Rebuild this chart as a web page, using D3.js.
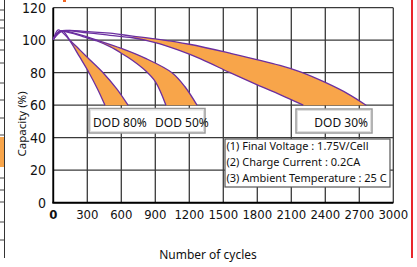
<!DOCTYPE html>
<html>
<head>
<meta charset="utf-8">
<script src="https://cdn.jsdelivr.net/npm/d3@7"></script>
<style>
  html, body { margin: 0; padding: 0; background: #fff; }
  svg { display: block; }
  .tick-y, .tick-x { font-family: "Liberation Sans Narrow", "DejaVu Sans Condensed", sans-serif; fill: #111; }
  .lbl { font-family: "Noto Sans", "Open Sans", sans-serif; fill: #111; }
</style>
</head>
<body>
<div id="chart"></div>
<script>
// cycle-life data: [cycles, capacity %]
var xTicks = [0, 300, 600, 900, 1200, 1500, 1800, 2100, 2400, 2700, 3000];
var yTicks = [0, 20, 40, 60, 80, 100, 120];

var dod80Upper = [[0,100.5],[80,105.8],[147,100],[220,95],[300,89.5],[439,80],[560,70],[659,60]];
var dod80Lower = [[0,100.5],[44,106.3],[100,103.5],[147,99.6],[230,90],[315,80],[390,70],[456,60]];

var dod50Upper = [[0,100.5],[60,105.6],[200,104],[386,100],[600,95],[809,89],[1047,80],[1160,71.5],[1268,60]];
var dod50Lower = [[0,100.5],[50,105.3],[150,104.5],[250,102.5],[386,99.5],[500,96],[600,92],[700,87.5],[809,81.5],[900,74.5],[994,60]];

var dod30Upper = [[0,100.5],[80,105.5],[300,105.3],[500,104.3],[700,102.5],[900,100.8],[1200,97.5],[1560,92],[2000,84.5],[2180,80.5],[2400,74],[2600,67],[2760,60]];
var dod30Lower = [[0,100.5],[60,105.5],[300,104.5],[500,103],[700,101.5],[900,98.5],[1100,94],[1300,88.5],[1560,80],[1800,72.5],[2000,66.5],[2206,60]];

// where each band starts (cycles)
var bands = [
  {upper: dod80Upper, lower: dod80Lower, from: 147},
  {upper: dod50Upper, lower: dod50Lower, from: 386},
  {upper: dod30Upper, lower: dod30Lower, from: 700}
];

var notes = ["(1) Final Voltage : 1.75V/Cell", "(2) Charge Current : 0.2CA", "(3) Ambient Temperature : 25 C"];

var W = 417, H = 267;
var svg = d3.select("#chart").append("svg").attr("width", W).attr("height", H);

var x = d3.scaleLinear().domain([0, 3000]).range([53.3, 393.3]);
var y = d3.scaleLinear().domain([0, 120]).range([202.7, 7.7]);

// bits of the neighbouring figures that got cropped in
svg.append("line").attr("x1", 4.5).attr("x2", 4.5).attr("y1", 0).attr("y2", 258)
   .attr("stroke", "#333").attr("stroke-width", 1);
[10, 20, 28, 40, 50, 63, 83, 100, 118, 135, 178, 190, 202, 222, 240].forEach(function (v) {
  svg.append("line").attr("x1", 0).attr("x2", 4.5).attr("y1", v).attr("y2", v)
     .attr("stroke", "#444").attr("stroke-width", 1);
});
svg.append("rect").attr("x", 0).attr("y", 137).attr("width", 4).attr("height", 30).attr("fill", "#f8a54a");
svg.append("line").attr("x1", 412).attr("x2", 412).attr("y1", 0).attr("y2", 258)
   .attr("stroke", "#e8262c").attr("stroke-width", 2);
svg.append("rect").attr("x", 63).attr("y", 0).attr("width", 3).attr("height", 2).attr("fill", "#f26522");

// grid
var grid = svg.append("g");
grid.selectAll("line.v").data(xTicks).enter().append("line")
  .attr("x1", d => x(d)).attr("x2", d => x(d))
  .attr("y1", y(120)).attr("y2", y(0))
  .attr("stroke", "#3a3a3a").attr("stroke-width", 1.3);
grid.selectAll("line.h").data(yTicks).enter().append("line")
  .attr("x1", x(0)).attr("x2", x(3000))
  .attr("y1", d => y(d)).attr("y2", d => y(d))
  .attr("stroke", "#3a3a3a").attr("stroke-width", 1.3);

// axes
svg.append("line").attr("x1", x(0)).attr("x2", x(0)).attr("y1", y(120)).attr("y2", y(0))
   .attr("stroke", "#000").attr("stroke-width", 1.8);
svg.append("line").attr("x1", x(0) - 1).attr("x2", x(3000)).attr("y1", y(0)).attr("y2", y(0))
   .attr("stroke", "#000").attr("stroke-width", 2);

var line = d3.line().x(d => x(d[0])).y(d => y(d[1])).curve(d3.curveCatmullRom.alpha(0.5));

// orange bands
bands.forEach(function (b) {
  var up = b.upper.filter(d => d[0] >= b.from);
  var lo = b.lower.filter(d => d[0] >= b.from).slice().reverse();
  var p = line(up) + "L" + line(lo).slice(1) + "Z";
  svg.append("path").attr("d", p).attr("fill", "#f8a54a").attr("stroke", "none");
});

// purple curves
bands.forEach(function (b) {
  [b.upper, b.lower].forEach(function (s) {
    svg.append("path").attr("d", line(s)).attr("fill", "none")
       .attr("stroke", "#6b2fa0").attr("stroke-width", 1.3);
  });
});

// tick labels
svg.selectAll("text.ty").data(yTicks).enter().append("text")
  .attr("class", "tick-y").attr("x", 46).attr("y", d => y(d)).attr("dy", "0.36em")
  .attr("text-anchor", "end").attr("font-size", 14).text(d => d);
svg.selectAll("text.tx").data(xTicks).enter().append("text")
  .attr("class", "tick-x").attr("x", d => x(d)).attr("y", 219)
  .attr("text-anchor", "middle").attr("font-size", 13)
  .attr("font-weight", d => d === 0 ? "bold" : "normal").text(d => d);

// axis titles
svg.append("text").attr("class", "lbl").attr("font-size", 11.5)
  .attr("transform", "translate(26,124) rotate(-90)").attr("text-anchor", "middle")
  .text("Capacity (%)");
svg.append("text").attr("class", "lbl").attr("font-size", 12)
  .attr("x", 208).attr("y", 259).attr("text-anchor", "middle").text("Number of cycles");

// DOD label boxes
function labelBox(x0, x1, y0, y1) {
  svg.append("rect").attr("x", x0).attr("y", y0).attr("width", x1 - x0).attr("height", y1 - y0)
     .attr("fill", "#fff").attr("stroke", "#9a9a9a").attr("stroke-width", 1.5);
  svg.append("rect").attr("x", x0 + 1.5).attr("y", y0 + 1.5).attr("width", x1 - x0 - 3).attr("height", y1 - y0 - 3)
     .attr("fill", "none").attr("stroke", "#d8d8d8").attr("stroke-width", 0.8);
}
labelBox(89, 205, 108.5, 133);
labelBox(296, 372, 109, 133);
svg.append("text").attr("class", "lbl").attr("font-size", 12).attr("x", 93).attr("y", 126.5).text("DOD 80%");
svg.append("text").attr("class", "lbl").attr("font-size", 12).attr("x", 155).attr("y", 126.5).text("DOD 50%");
svg.append("text").attr("class", "lbl").attr("font-size", 12).attr("x", 368).attr("y", 126.5)
  .attr("text-anchor", "end").text("DOD 30%");

// conditions box
svg.append("rect").attr("x", 225).attr("y", 139).attr("width", 165).attr("height", 48)
   .attr("fill", "#fff").attr("stroke", "#555").attr("stroke-width", 1.2);
svg.selectAll("text.note").data(notes).enter().append("text")
  .attr("class", "lbl").attr("font-size", 11).attr("x", 226.5)
  .attr("y", (d, i) => 150 + i * 16).text(d => d);
</script>
</body>
</html>
